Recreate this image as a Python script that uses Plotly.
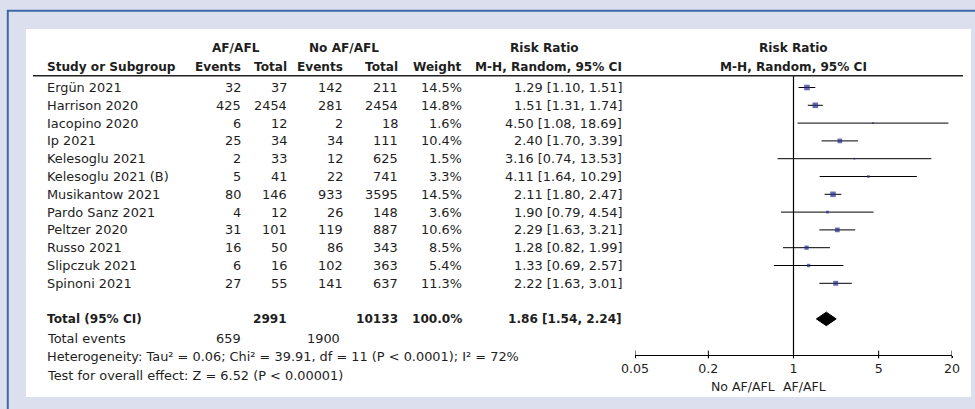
import plotly.graph_objects as go

# ---- data -------------------------------------------------------------
studies = ["Ergün 2021", "Harrison 2020", "Iacopino 2020", "Ip 2021",
           "Kelesoglu 2021", "Kelesoglu 2021 (B)", "Musikantow 2021",
           "Pardo Sanz 2021", "Peltzer 2020", "Russo 2021",
           "Slipczuk 2021", "Spinoni 2021"]
af_events = [32, 425, 6, 25, 2, 5, 80, 4, 31, 16, 6, 27]
af_total = [37, 2454, 12, 34, 33, 41, 146, 12, 101, 50, 16, 55]
no_events = [142, 281, 2, 34, 12, 22, 933, 26, 119, 86, 102, 141]
no_total = [211, 2454, 18, 111, 625, 741, 3595, 148, 887, 343, 363, 637]
weight = [14.5, 14.8, 1.6, 10.4, 1.5, 3.3, 14.5, 3.6, 10.6, 8.5, 5.4, 11.3]
rr = [1.29, 1.51, 4.50, 2.40, 3.16, 4.11, 2.11, 1.90, 2.29, 1.28, 1.33, 2.22]
rr_lo = [1.10, 1.31, 1.08, 1.70, 0.74, 1.64, 1.80, 0.79, 1.63, 0.82, 0.69, 1.63]
rr_hi = [1.51, 1.74, 18.69, 3.39, 13.53, 10.29, 2.47, 4.54, 3.21, 1.99, 2.57, 3.01]

total_af_n = 2991
total_no_n = 10133
total_af_events = 659
total_no_events = 1900
total_weight = 100.0
pooled_rr, pooled_lo, pooled_hi = 1.86, 1.54, 2.24

heterogeneity = "Heterogeneity: Tau² = 0.06; Chi² = 39.91, df = 11 (P < 0.0001); I² = 72%"
overall_test = "Test for overall effect: Z = 6.52 (P < 0.00001)"

tick_vals = [0.05, 0.2, 1, 5, 20]
tick_text = ["0.05", "0.2", "1", "5", "20"]

# ---- layout geometry --------------------------------------------------
W, H = 975, 409
ROW0_PX, ROW_PX = 87.5, 17.8          # first study row and row pitch (px)
AXIS_ROW = 15.0                        # row where the forest axis sits
TOTAL_ROW = 13
FONT = "DejaVu Sans"
FS = 12.9          # regular text
FS_B = 12.1        # bold text
TXT = "#1e1e1e"
BLUE = "#262b8c"


def px(x):
    return x / W


def py(y):
    return 1 - y / H


row_top = -ROW0_PX / ROW_PX
row_bot = (H - ROW0_PX) / ROW_PX

fig = go.Figure()

# confidence interval whiskers
for i in range(len(studies)):
    fig.add_trace(go.Scatter(x=[rr_lo[i], rr_hi[i]], y=[i, i], mode="lines",
                             line=dict(color="black", width=1),
                             hoverinfo="skip", showlegend=False))

# weighted point estimates
fig.add_trace(go.Scatter(
    x=rr, y=list(range(len(studies))), mode="markers",
    marker=dict(symbol="square", color=BLUE,
                size=[1.45 * w ** 0.5 for w in weight], line=dict(width=0)),
    hoverinfo="skip", showlegend=False))

# pooled diamond
dh = 0.38
fig.add_trace(go.Scatter(
    x=[pooled_lo, pooled_rr, pooled_hi, pooled_rr, pooled_lo],
    y=[TOTAL_ROW, TOTAL_ROW - dh, TOTAL_ROW, TOTAL_ROW + dh, TOTAL_ROW],
    mode="lines", fill="toself", fillcolor="black",
    line=dict(color="black", width=1), hoverinfo="skip", showlegend=False))

# line of no effect
fig.add_trace(go.Scatter(x=[1, 1], y=[-0.66, AXIS_ROW], mode="lines",
                         line=dict(color="black", width=1.2),
                         hoverinfo="skip", showlegend=False))

# tick marks crossing the axis
tx, ty = [], []
for v in tick_vals:
    tx += [v, v, None]
    ty += [AXIS_ROW - 0.22, AXIS_ROW + 0.22, None]
fig.add_trace(go.Scatter(x=tx, y=ty, mode="lines",
                         line=dict(color="black", width=1),
                         hoverinfo="skip", showlegend=False))

# ---- text table -------------------------------------------------------
ann = []


def put(x, row, text, anchor="right", bold=False, size=None):
    t = f"<b>{text}</b>" if bold else text
    fs = size if size else (FS_B if bold else FS)
    ann.append(dict(x=px(x), y=row, xref="paper", yref="y", text=t,
                    xanchor=anchor, yanchor="middle", showarrow=False,
                    font=dict(family=FONT, size=fs, color=TXT)))


H1, H2 = -2.22, -1.15
put(236, H1, "AF/AFL", "center", True)
put(343.5, H1, "No AF/AFL", "center", True)
put(544, H1, "Risk Ratio", "center", True)
put(793, H1, "Risk Ratio", "center", True)

put(45, H2, "Study or Subgroup", "left", True)
put(243, H2, "Events", bold=True)
put(289, H2, "Total", bold=True)
put(345, H2, "Events", bold=True)
put(400, H2, "Total", bold=True)
put(464, H2, "Weight", bold=True)
put(624, H2, "M-H, Random, 95% CI", bold=True)
put(793, H2, "M-H, Random, 95% CI", "center", True)

for i, s in enumerate(studies):
    put(45, i, s, "left")
    put(243, i, str(af_events[i]))
    put(289, i, str(af_total[i]))
    put(345, i, str(no_events[i]))
    put(400, i, str(no_total[i]))
    put(464, i, f"{weight[i]:.1f}%")
    put(624, i, f"{rr[i]:.2f} [{rr_lo[i]:.2f}, {rr_hi[i]:.2f}]")

put(45, TOTAL_ROW, "Total (95% CI)", "left", True)
put(289, TOTAL_ROW, str(total_af_n), bold=True)
put(400, TOTAL_ROW, str(total_no_n), bold=True)
put(464, TOTAL_ROW, f"{total_weight:.1f}%", bold=True)
put(624, TOTAL_ROW, f"{pooled_rr:.2f} [{pooled_lo:.2f}, {pooled_hi:.2f}]", bold=True)

put(45, 14.1, "Total events", "left")
put(243, 14.1, str(total_af_events))
put(342, 14.1, str(total_no_events))
put(45, 15.14, heterogeneity, "left")
put(45, 16.18, overall_test, "left")

# direction labels under the forest axis
put(777, 16.78, "No AF/AFL", "right", size=12.5)
put(781, 16.78, "AF/AFL", "left", size=12.5)

# ---- frame ------------------------------------------------------------
shapes = [
    dict(type="rect", xref="paper", yref="paper", x0=px(26), x1=px(971),
         y0=py(397), y1=py(29), fillcolor="white", line=dict(width=0),
         layer="below"),
    dict(type="line", xref="paper", yref="paper", x0=px(7), x1=1,
         y0=py(10.8), y1=py(10.8), line=dict(color="#3e69a8", width=2)),
    dict(type="line", xref="paper", yref="paper", x0=px(7.8), x1=px(7.8),
         y0=py(10), y1=0, line=dict(color="#3e69a8", width=2)),
    dict(type="line", xref="paper", yref="y", x0=px(33), x1=px(963),
         y0=-0.66, y1=-0.66, line=dict(color="#222222", width=1.5)),
]

fig.update_layout(
    width=W, height=H,
    margin=dict(l=0, r=0, t=0, b=0, pad=0, autoexpand=False),
    paper_bgcolor="#dcdfee", plot_bgcolor="rgba(0,0,0,0)",
    annotations=ann, shapes=shapes, showlegend=False,
    xaxis=dict(type="log", domain=[px(635), px(952)],
               range=[-1.30103, 1.30103], anchor="free",
               position=py(354.5), showline=True, linecolor="black",
               linewidth=1, ticks="outside", ticklen=2, tickcolor="black",
               tickvals=tick_vals, ticktext=tick_text, showgrid=False,
               zeroline=False, automargin=False,
               tickfont=dict(family=FONT, size=12.6, color=TXT)),
    yaxis=dict(domain=[0, 1], range=[row_bot, row_top], visible=False,
               showgrid=False, zeroline=False, automargin=False),
)

fig.write_html("out.html")
